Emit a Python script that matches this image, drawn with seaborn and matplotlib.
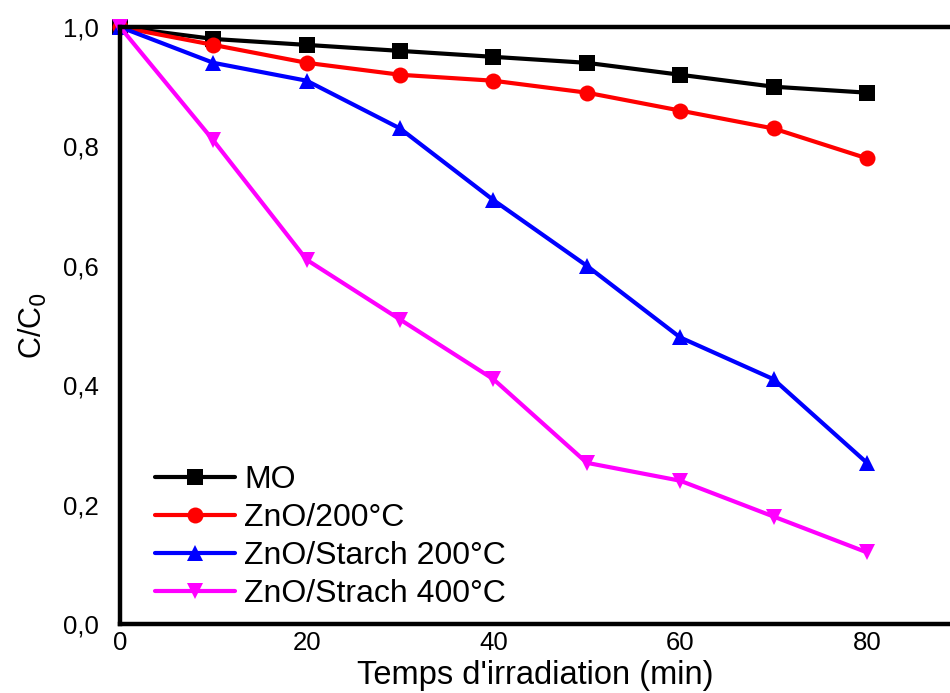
import numpy as np
import pandas as pd
import seaborn as sns
import matplotlib.pyplot as plt
from matplotlib.ticker import FuncFormatter, MultipleLocator

# Data
time_min = [0, 10, 20, 30, 40, 50, 60, 70, 80]
mo = [1.0, 0.98, 0.97, 0.96, 0.95, 0.94, 0.92, 0.90, 0.89]
zno_200 = [1.0, 0.97, 0.94, 0.92, 0.91, 0.89, 0.86, 0.83, 0.78]
zno_starch_200 = [1.0, 0.94, 0.91, 0.83, 0.71, 0.60, 0.48, 0.41, 0.27]
zno_strach_400 = [1.0, 0.81, 0.61, 0.51, 0.41, 0.27, 0.24, 0.18, 0.12]

series_names = ["MO", "ZnO/200°C", "ZnO/Starch 200°C", "ZnO/Strach 400°C"]
series_values = [mo, zno_200, zno_starch_200, zno_strach_400]
colors = ["black", "#ff0000", "#0000ff", "#ff00ff"]
markers = ["s", "o", "^", "v"]

sns.set_style("white")
plt.rcParams['font.family'] = ['Liberation Sans', 'DejaVu Sans']
plt.rcParams.update({"text.color": "black", "axes.labelcolor": "black",
                     "xtick.labelcolor": "black", "ytick.labelcolor": "black"})

fig = plt.figure(figsize=(9.5, 6.93), dpi=100)
ax = fig.add_axes([120 / 950, 1 - 624 / 693, 830 / 950, 597 / 693])

for name, vals, c, m in zip(series_names, series_values, colors, markers):
    df = pd.DataFrame({"t": time_min, "c": vals})
    sns.lineplot(data=df, x="t", y="c", ax=ax, color=c, marker=m, label=name,
                 linewidth=3.0, markersize=11.5 if m == "o" else 11,
                 markeredgewidth=0, clip_on=False)

ax.set_xlim(0, 88.9)
ax.set_ylim(0, 1.0)
ax.xaxis.set_major_locator(MultipleLocator(20))
ax.xaxis.set_minor_locator(MultipleLocator(10))
ax.yaxis.set_major_locator(MultipleLocator(0.2))
ax.yaxis.set_major_formatter(FuncFormatter(lambda v, p: f"{v:.1f}".replace(".", ",")))

ax.tick_params(axis="x", which="both", direction="in", length=3, width=1,
               color="#555555", labelsize=18.5, pad=5)
ax.tick_params(axis="y", which="both", length=0, labelsize=18.5, pad=15)

for side in ["left", "bottom", "top"]:
    ax.spines[side].set_linewidth(3.2)
    ax.spines[side].set_color("black")
ax.spines["right"].set_visible(False)

ax.set_xlabel("Temps d'irradiation (min)", fontsize=23.5)
ax.xaxis.set_label_coords(0.5, -0.06)
ax.set_ylabel("C/C$_0$", fontsize=22, labelpad=10)

leg = ax.legend(loc="lower left", bbox_to_anchor=(0.042, 0.025), frameon=False,
                fontsize=23, handlelength=2.5, handletextpad=0.3,
                labelspacing=0.25, borderpad=0, borderaxespad=0)

fig.savefig("out.png", dpi=100)
